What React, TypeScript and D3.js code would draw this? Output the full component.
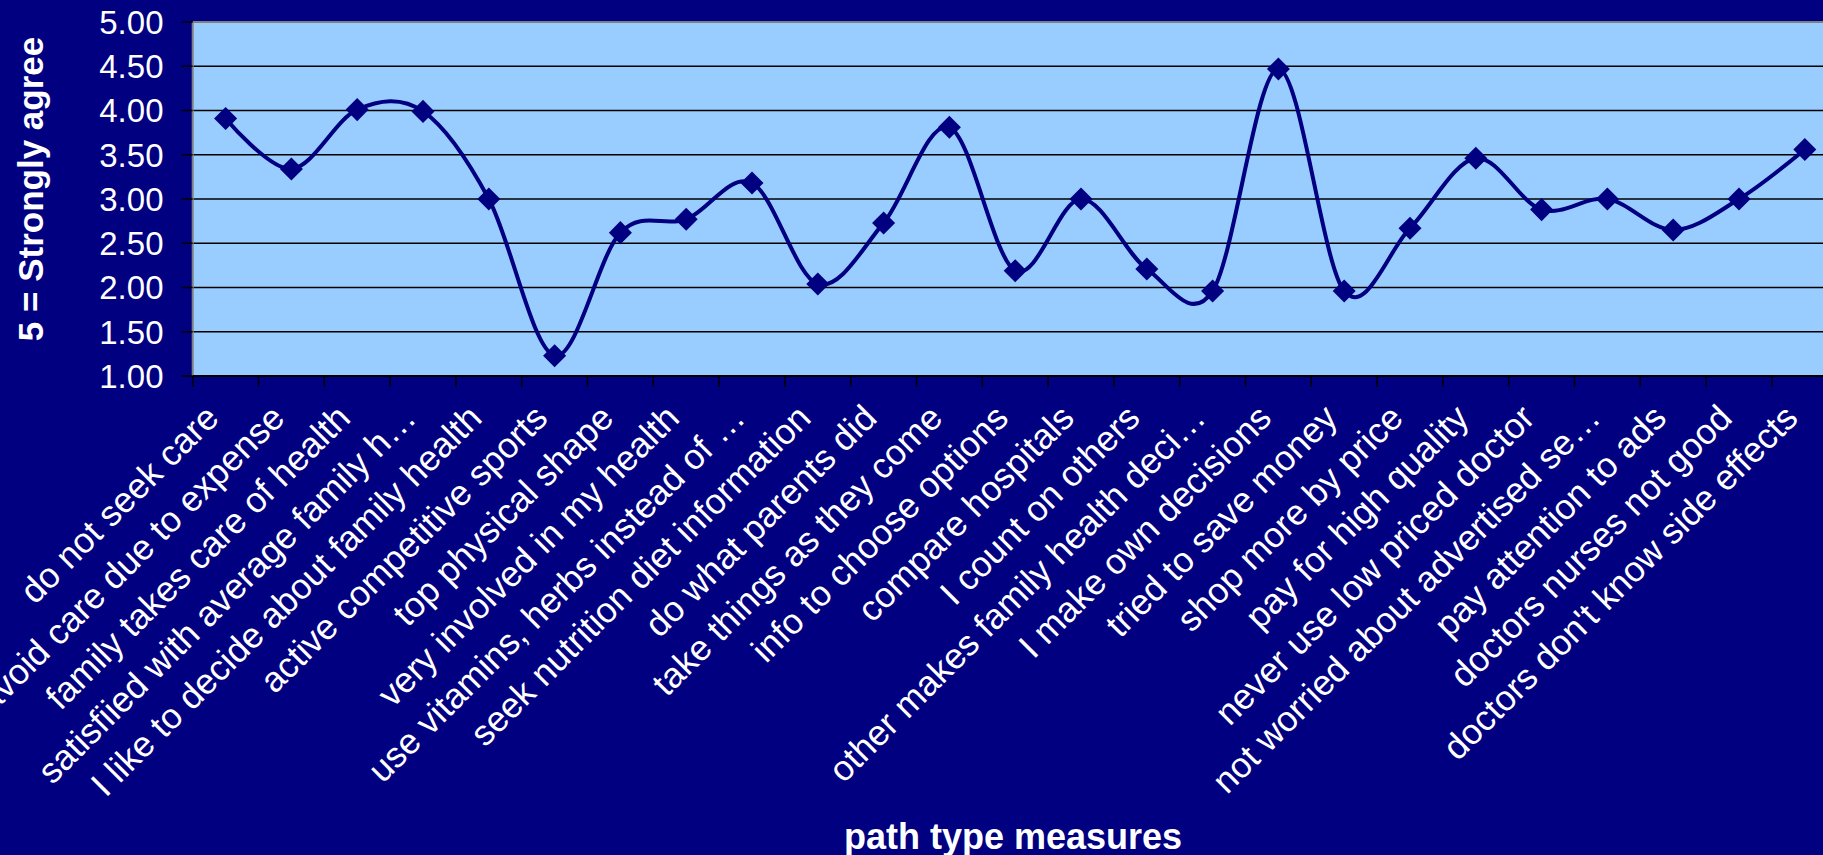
import React from "react";
import * as d3 from "d3";

// Survey items along the category axis
const categories: string[] = [
  "do not seek care",
  "avoid care due to expense",
  "family takes care of health",
  "satisfiied with average family h…",
  "I like to decide about family health",
  "active competitive sports",
  "top physical shape",
  "very involved in my health",
  "use vitamins, herbs instead of …",
  "seek nutrition diet information",
  "do what parents did",
  "take things as they come",
  "info to choose options",
  "compare hospitals",
  "I count on others",
  "other makes family health deci…",
  "I make own decisions",
  "tried to save money",
  "shop more by price",
  "pay for high quality",
  "never use low priced doctor",
  "not worried about advertised se…",
  "pay attention to ads",
  "doctors nurses not good",
  "doctors don't know side effects",
];

// Mean agreement score for each item
const scores: number[] = [
  3.91, 3.34, 4.01, 3.99, 3.0, 1.23, 2.62, 2.77, 3.18, 2.04, 2.73, 3.81, 2.19,
  3.0, 2.21, 1.96, 4.47, 1.96, 2.67, 3.46, 2.88, 3.0, 2.65, 3.0, 3.56,
];

const yTicks: number[] = [1, 1.5, 2, 2.5, 3, 3.5, 4, 4.5, 5];

const yTitle = "5 = Strongly agree";
const xTitle = "path type measures";

const W = 1823;
const H = 855;
const NAVY = "#000080";
const PLOT_BG = "#99CCFF";
const FONT = "Arial, 'Liberation Sans', Helvetica, sans-serif";

export default function App() {
  const left = 192.7;
  const top = 22;
  const bottom = 376;
  const step = 65.8;
  const right = left + step * categories.length;

  const x = d3.scaleBand<string>().domain(categories).range([left, right]).padding(0);
  const y = d3.scaleLinear().domain([1, 5]).range([bottom, top]);
  const cx = (c: string) => (x(c) as number) + x.bandwidth() / 2;

  const pts: [number, number][] = categories.map((c, i) => [cx(c), y(scores[i])]);
  const line = d3.line().curve(d3.curveCardinal.tension(0));
  const pathD = line(pts) || "";

  const diamond = d3.symbol().type(d3.symbolSquare).size(265)() || "";

  const tickEdges = d3.range(categories.length + 1).map((i) => left + i * step);

  return (
    <svg
      width={W}
      height={H}
      style={{ position: "absolute", left: 0, top: 0, display: "block" }}
      fontFamily={FONT}
    >
      <rect x={0} y={0} width={W} height={H} fill={NAVY} />

      {/* plot area */}
      <rect x={left} y={top} width={right - left} height={bottom - top} fill={PLOT_BG} />

      {/* horizontal gridlines */}
      {yTicks.slice(1).map((t) => (
        <line
          key={"g" + t}
          x1={left}
          x2={right}
          y1={y(t)}
          y2={y(t)}
          stroke={t === 5 ? "#808080" : "#000"}
          strokeWidth={t === 5 ? 2 : 1.3}
        />
      ))}
      <line x1={left} x2={left} y1={top} y2={bottom} stroke="#808080" strokeWidth={2} />

      {/* axes */}
      <line x1={left} x2={right} y1={bottom} y2={bottom} stroke="#000" strokeWidth={2} />
      {yTicks.map((t) => (
        <line key={"yt" + t} x1={left - 11} x2={left} y1={y(t)} y2={y(t)} stroke="#000" strokeWidth={1.5} />
      ))}
      {tickEdges.map((tx, i) => (
        <line key={"xt" + i} x1={tx} x2={tx} y1={bottom} y2={bottom + 11} stroke="#000" strokeWidth={1.5} />
      ))}

      {/* y tick labels */}
      {yTicks.map((t) => (
        <text
          key={"yl" + t}
          x={163.5}
          y={y(t)}
          dy="0.36em"
          textAnchor="end"
          fill="#fff"
          fontSize={33}
        >
          {d3.format(".2f")(t)}
        </text>
      ))}

      {/* category labels */}
      {categories.map((c) => (
        <text
          key={"cl" + c}
          transform={`translate(${cx(c) - 5},${420}) rotate(-45)`}
          textAnchor="end"
          fill="#fff"
          fontSize={35.5}
        >
          {c}
        </text>
      ))}

      {/* smoothed series line and markers */}
      <path d={pathD} fill="none" stroke={NAVY} strokeWidth={4} strokeLinejoin="round" />
      {pts.map(([px, py], i) => (
        <path key={"m" + i} d={diamond} transform={`translate(${px},${py}) rotate(45)`} fill={NAVY} />
      ))}

      {/* axis titles */}
      <text
        transform={`translate(43,189) rotate(-90)`}
        textAnchor="middle"
        fill="#fff"
        fontSize={35}
        fontWeight="bold"
      >
        {yTitle}
      </text>
      <text x={1013} y={849} textAnchor="middle" fill="#fff" fontSize={36} fontWeight="bold">
        {xTitle}
      </text>
    </svg>
  );
}
